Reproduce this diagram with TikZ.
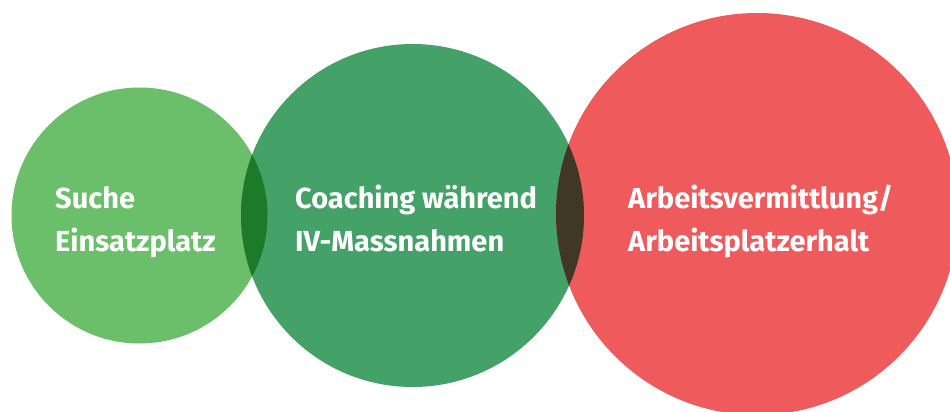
\documentclass[tikz,border=0pt]{standalone}
\usepackage{fontspec}
\setmainfont{Fira Sans}
\definecolor{cLight}{RGB}{107,191,107}
\definecolor{cMid}{RGB}{68,162,104}
\definecolor{cRed}{RGB}{239,90,92}
\definecolor{cLensA}{RGB}{30,122,43}
\definecolor{cLensB}{RGB}{64,56,37}
\tikzset{
  label/.style={anchor=base west, inner sep=0pt, align=left, text=white,
    font=\fontsize{29}{43}\selectfont\bfseries},
}
\begin{document}
\begin{tikzpicture}[x=1pt,y=-1pt]
\useasboundingbox (0,0) rectangle (950,412);
\clip (0,0) rectangle (950,412);
\coordinate (cA) at (139.5,215.5);
\coordinate (cB) at (412.5,215.5);
\coordinate (cC) at (757,214);
\fill[cLight] (cA) circle[radius=128];
\fill[cMid] (cB) circle[radius=171.5];
\fill[cRed] (cC) circle[radius=201];
\begin{scope}
  \clip (cA) circle[radius=128];
  \fill[cLensA] (cB) circle[radius=171.5];
\end{scope}
\begin{scope}
  \clip (cB) circle[radius=171.5];
  \fill[cLensB] (cC) circle[radius=201];
\end{scope}
\node[label] (tA) at (55,251) {Suche\\Einsatzplatz};
\node[label] (tB) at (295,251) {Coaching während\\IV-Massnahmen};
\node[label] (tC) at (628,251) {Arbeitsvermittlung/\\Arbeitsplatzerhalt};
\end{tikzpicture}
\end{document}
